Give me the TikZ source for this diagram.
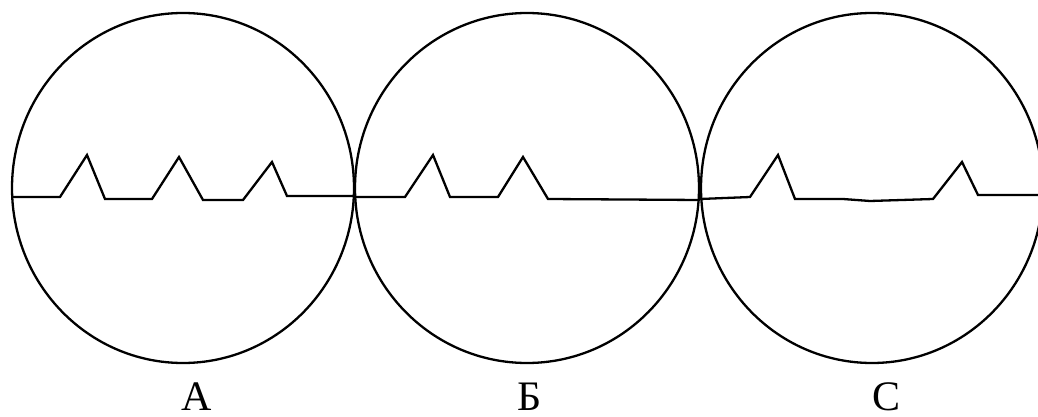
\documentclass[tikz,border=0pt]{standalone}
\usepackage{fontspec}
\setmainfont{Liberation Serif}
\begin{document}
\begin{tikzpicture}[
    x=1pt, y=-1pt,
    rim/.style={line width=2.3pt, draw=black},
    profile/.style={line width=2.3pt, draw=black, line join=miter},
    letter/.style={font=\fontsize{42}{42}\selectfont, anchor=base, inner sep=0pt}
  ]
    \useasboundingbox (0,0) rectangle (1038,417);
    \draw[rim] (183,188) ellipse [x radius=171, y radius=175];
    \draw[rim] (527,188) ellipse [x radius=172, y radius=175];
    \draw[rim] (872,188) ellipse [x radius=171, y radius=175];
    \draw[profile] (12,197) -- (60,197) -- (87,155) -- (105,199) -- (152,199) -- (179,157) -- (203,200)
      -- (243,200) -- (272,162) -- (287,196) -- (355,196);
    \draw[profile] (355,197) -- (405,197) -- (433,155) -- (450,197) -- (498,197) -- (523,157) -- (548,199)
      -- (700,200);
    \draw[profile] (700,199) -- (750,197) -- (778,155) -- (795,199) -- (843,199) -- (870,201) -- (933,199)
      -- (962,162) -- (978,195) -- (1038,195);
    \node[letter] (labA) at (197,410) {А};
    \node[letter] (labB) at (530,410) {Б};
    \node[letter] (labC) at (886,410) {С};
  \end{tikzpicture}
\end{document}
